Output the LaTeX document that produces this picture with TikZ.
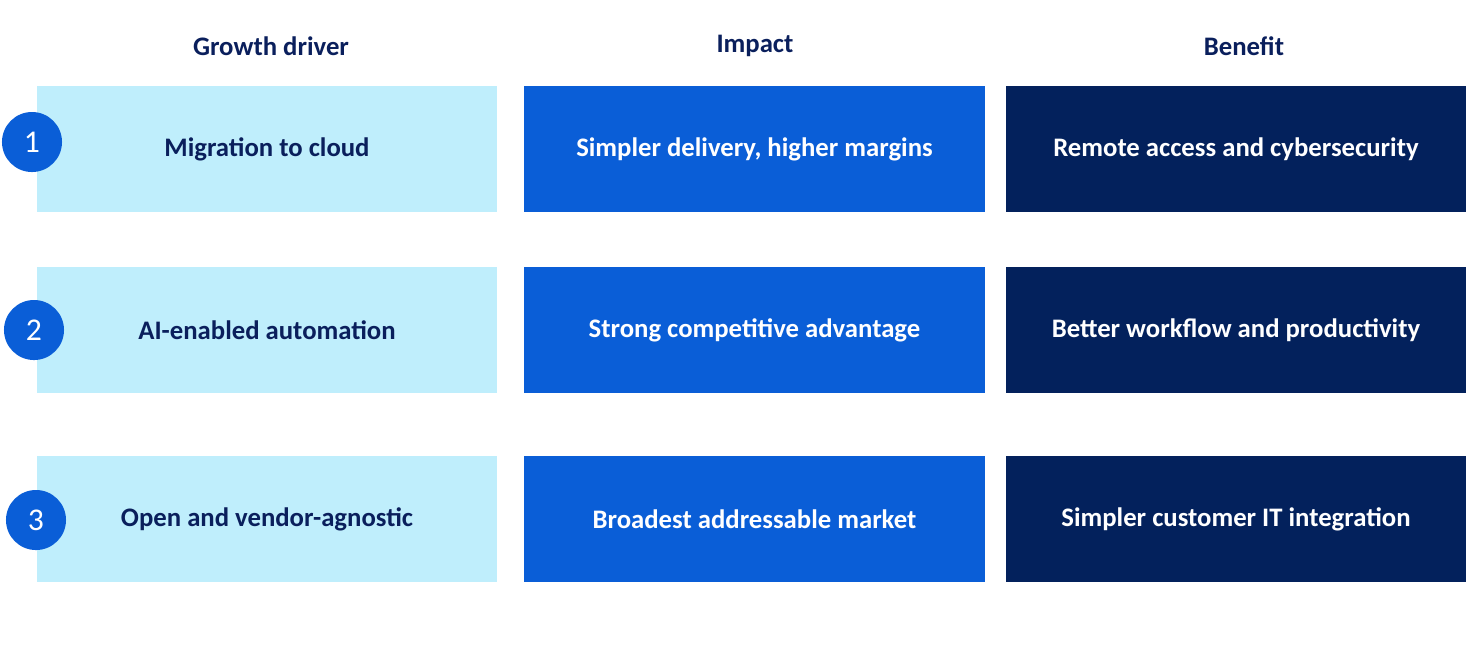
\documentclass[tikz,border=0pt]{standalone}
\usepackage{fontspec}
\setmainfont{Carlito}
\definecolor{lightb}{HTML}{BFEEFC}
\definecolor{midb}{HTML}{0A5ED7}
\definecolor{darkb}{HTML}{03215C}
\definecolor{navy}{HTML}{0A1F5C}
\begin{document}
\begin{tikzpicture}[x=0.01cm,y=-0.01cm,
  cell/.style={minimum width=4.6cm,minimum height=1.26cm,inner sep=0,font=\fontsize{7.6pt}{9pt}\selectfont\bfseries},
  c1/.style={cell,fill=lightb,text=navy},
  c2/.style={cell,fill=midb,text=white},
  c3/.style={cell,fill=darkb,text=white},
  hdr/.style={font=\fontsize{7.6pt}{9pt}\selectfont\bfseries,text=navy},
  num/.style={circle,fill=midb,text=white,minimum size=0.6cm,inner sep=0,font=\fontsize{9pt}{10pt}\selectfont}]
\useasboundingbox (0,0) rectangle (1469,656);
\node[hdr] (h1) at (271,46) {Growth driver};
\node[hdr] (h2) at (755,46) {Impact};
\node[hdr] (h3) at (1244,46) {Benefit};
\node[c1] (a1) at (267,149) {Migration to cloud};
\node[c2] (b1) at (754.5,149) {Simpler delivery, higher margins};
\node[c3] (d1) at (1236,149) {Remote access and cybersecurity};
\node[c1] (a2) at (267,330) {AI-enabled automation};
\node[c2] (b2) at (754.5,330) {Strong competitive advantage};
\node[c3] (d2) at (1236,330) {Better workflow and productivity};
\node[c1] (a3) at (267,519) {Open and vendor-agnostic};
\node[c2] (b3) at (754.5,519) {Broadest addressable market};
\node[c3] (d3) at (1236,519) {Simpler customer IT integration};
\node[num] (n1) at (32,142) {1};
\node[num] (n2) at (34,330) {2};
\node[num] (n3) at (36,520) {3};
\end{tikzpicture}
\end{document}
